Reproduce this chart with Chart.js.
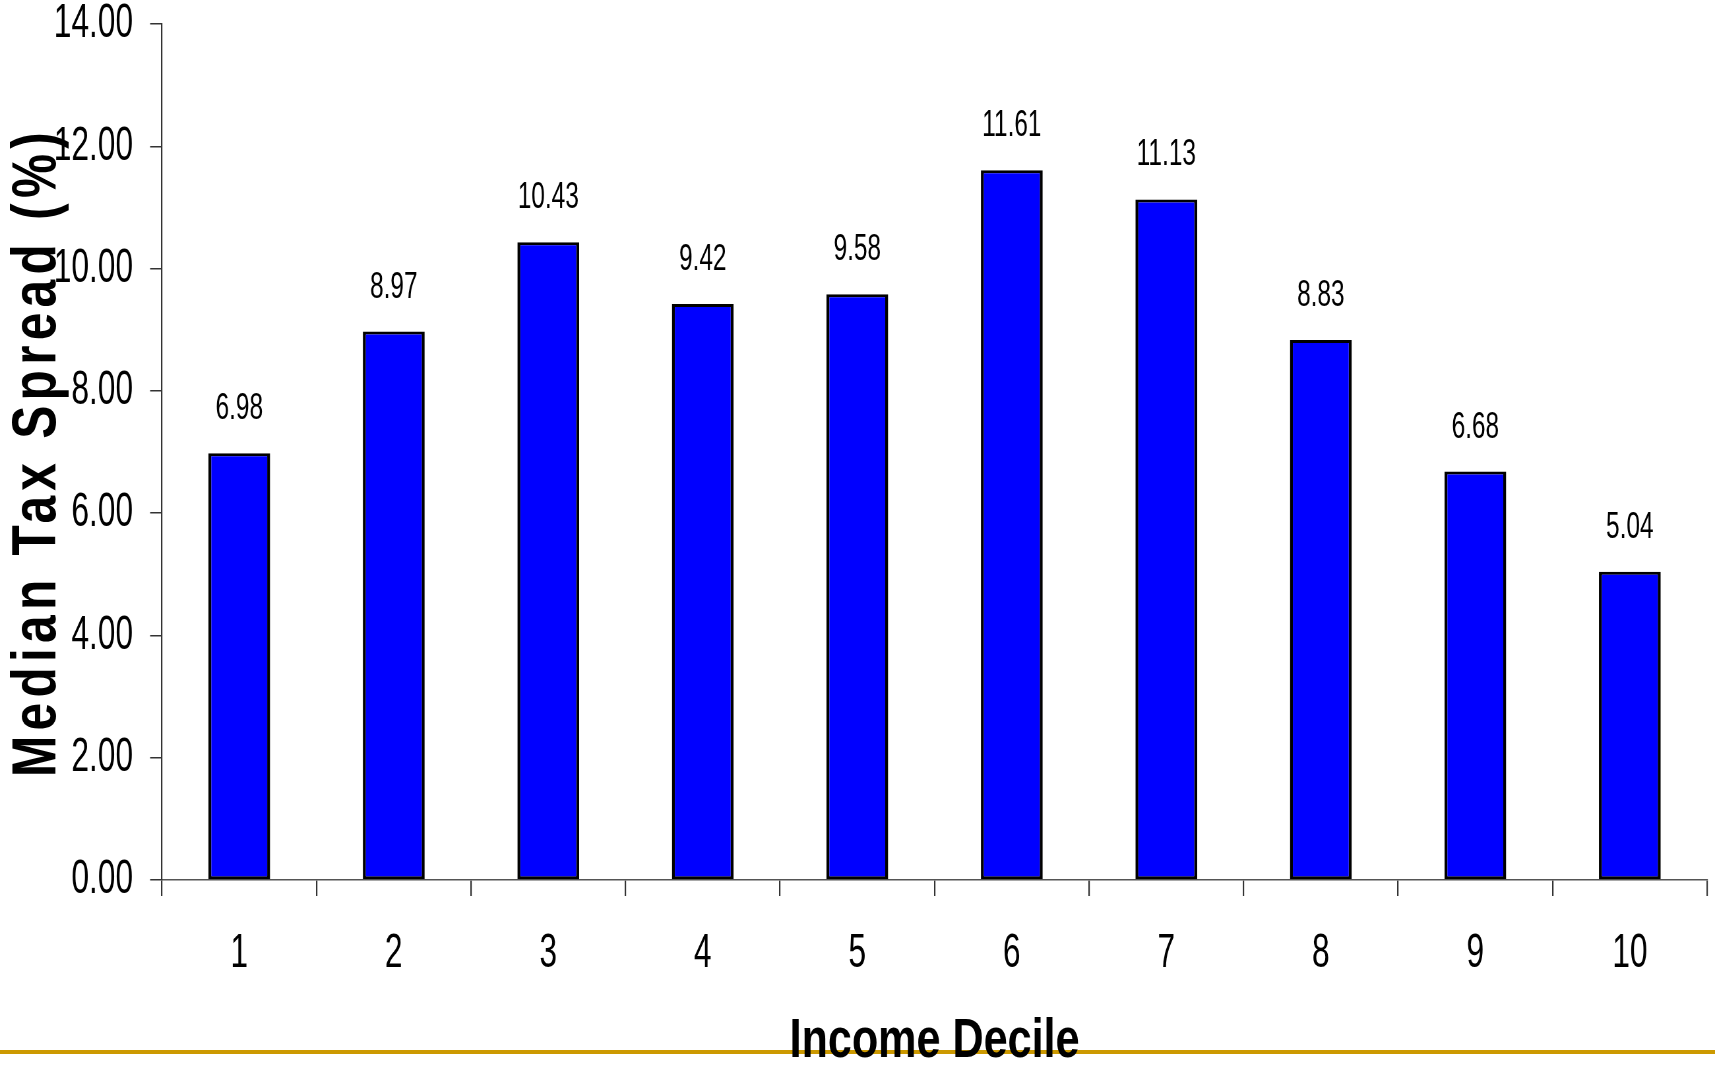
<!DOCTYPE html>
<html>
<head>
<meta charset="utf-8">
<script src="https://cdn.jsdelivr.net/npm/chart.js@4.4.1/dist/chart.umd.min.js"></script>
<style>
  html, body { margin: 0; padding: 0; background: #fff; overflow: hidden; }
  #c { width: 1715px; height: 1067px; display: block; }
</style>
</head>
<body>
<canvas id="c" width="2600" height="1067" style="width:1715px;height:1067px"></canvas>
<script>
const categories = ['1', '2', '3', '4', '5', '6', '7', '8', '9', '10'];
const medianTaxSpread = [6.98, 8.97, 10.43, 9.42, 9.58, 11.61, 11.13, 8.83, 6.68, 5.04];
const yTickValues = [0, 2, 4, 6, 8, 10, 12, 14];
const xAxisTitle = 'Income Decile';
const yAxisTitle = 'Median Tax Spread (%)';

// The original chart uses a condensed typeface; the canvas is drawn wider
// and shown condensed horizontally to reproduce it.
const S = 1715 / 2600;
const FONT = "'Liberation Sans', Arial, sans-serif";

const bgPlugin = {
  id: 'bg',
  beforeDraw(chart) {
    const ctx = chart.ctx;
    ctx.save();
    ctx.fillStyle = '#ffffff';
    ctx.fillRect(0, 0, chart.width, chart.height);
    ctx.fillStyle = '#CC9900';
    ctx.fillRect(0, 1050, chart.width, 4);
    ctx.restore();
  }
};

function patchTitle(scale, sx, sy, spacing) {
  const orig = scale.drawTitle;
  scale.drawTitle = function () {
    const ctx = this.ctx;
    const o = this.options.title;
    const lh = o.font.size * o.font.lineHeight;
    let cx, cy;
    if (this.isHorizontal()) {
      cx = (this.left + this.right) / 2;
      cy = this.bottom - o.padding.bottom - lh / 2;
    } else {
      cx = this.left + o.padding.top + lh / 2;
      cy = (this.top + this.bottom) / 2;
    }
    ctx.save();
    ctx.letterSpacing = spacing + 'px';
    ctx.translate(cx, cy);
    ctx.scale(sx, sy);
    ctx.translate(-cx, -cy);
    orig.call(this);
    ctx.restore();
  };
  scale._patchedTitle = true;
}

const titlePlugin = {
  id: 'titleStyle',
  afterLayout(chart) {
    const y = chart.scales.y, x = chart.scales.x;
    if (y && !y._patchedTitle) patchTitle(y, 1 / S, 0.8, 6.6);
    if (x && !x._patchedTitle) patchTitle(x, 0.77 / S, 1, 0);
  }
};

const valueLabels = {
  id: 'valueLabels',
  afterDatasetsDraw(chart) {
    const ctx = chart.ctx;
    const meta = chart.getDatasetMeta(0);
    ctx.save();
    ctx.font = '37px ' + FONT;
    ctx.fillStyle = '#000';
    ctx.textAlign = 'center';
    ctx.textBaseline = 'alphabetic';
    meta.data.forEach((bar, i) => {
      ctx.fillText(medianTaxSpread[i].toFixed(2), bar.x, bar.y - 34);
    });
    ctx.restore();
  }
};

new Chart(document.getElementById('c'), {
  type: 'bar',
  data: {
    labels: categories,
    datasets: [{
      data: medianTaxSpread,
      backgroundColor: '#0000FF',
      borderColor: '#000000',
      borderWidth: { top: 3, bottom: 3, left: 4.5, right: 4.5 },
      borderSkipped: false,
      categoryPercentage: 1.0,
      barPercentage: 0.4
    }]
  },
  options: {
    responsive: false,
    animation: false,
    devicePixelRatio: 1,
    layout: { padding: { top: 24, right: 12, bottom: 0, left: 0 } },
    plugins: {
      legend: { display: false },
      tooltip: { enabled: false }
    },
    scales: {
      x: {
        offset: true,
        grid: {
          display: true,
          drawOnChartArea: false,
          drawTicks: true,
          tickLength: 16,
          color: '#333333',
          lineWidth: 2.2,
          offset: true
        },
        border: { display: true, color: '#555555', width: 1.5 },
        ticks: {
          color: '#000',
          font: { family: FONT, size: 48, lineHeight: 1 },
          padding: 34,
          maxRotation: 0
        },
        title: {
          display: true,
          text: xAxisTitle,
          color: '#000',
          font: { family: FONT, size: 56, weight: 'bold', lineHeight: 0.9 },
          padding: { top: 0, bottom: 0 }
        },
        afterFit(scale) {
          scale.height = 187;
          scale.paddingLeft = 0;
          scale.paddingRight = 0;
        }
      },
      y: {
        min: 0,
        max: 14,
        afterBuildTicks(scale) { scale.ticks = yTickValues.map(v => ({ value: v })); },
        grid: {
          display: true,
          drawOnChartArea: false,
          drawTicks: true,
          tickLength: 18,
          color: '#333333',
          lineWidth: 1.5
        },
        border: { display: true, color: '#333333', width: 2.2 },
        ticks: {
          color: '#000',
          font: { family: FONT, size: 48, lineHeight: 1 },
          padding: 26,
          callback: (v) => Number(v).toFixed(2)
        },
        title: {
          display: true,
          text: yAxisTitle,
          color: '#000',
          font: { family: FONT, size: 62, weight: 'bold', lineHeight: 1 },
          padding: { top: 26.6, bottom: 0 }
        },
        afterFit(scale) {
          scale.width = 162 / S;
          scale.paddingTop = 0;
          scale.paddingBottom = 0;
        }
      }
    }
  },
  plugins: [bgPlugin, titlePlugin, valueLabels]
});
</script>
</body>
</html>
